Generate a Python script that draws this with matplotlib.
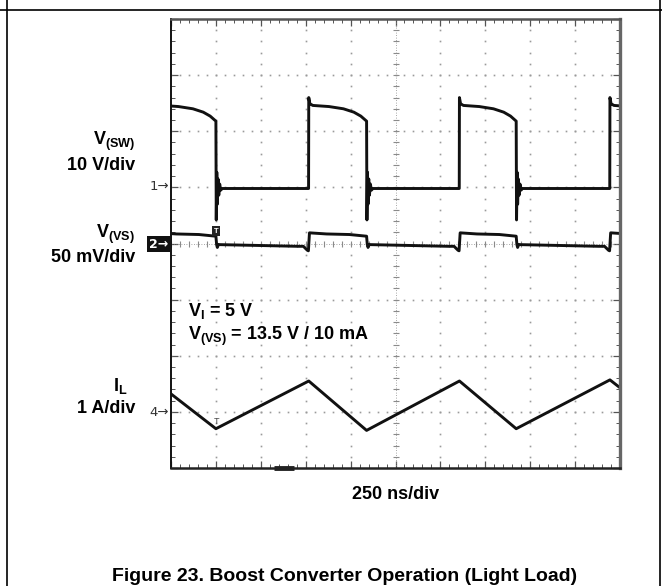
import numpy as np
import matplotlib
matplotlib.use('Agg')
import matplotlib.pyplot as plt
from matplotlib.lines import Line2D

plt.rcParams['font.family'] = ['Liberation Sans', 'DejaVu Sans']
plt.rcParams['font.weight'] = 'bold'
plt.rcParams['mathtext.fontset'] = 'custom'
plt.rcParams['mathtext.rm'] = 'Liberation Sans:bold'
plt.rcParams['mathtext.it'] = 'Liberation Sans:bold'
plt.rcParams['mathtext.bf'] = 'Liberation Sans:bold'

# ---------------- data ----------------
ns_per_div = 250
n_xdiv, n_ydiv = 10, 8

# channel scales and ground positions (divisions from screen centre)
sw_v_per_div, sw_ground = 10.0, 1.0
vs_mv_per_div, vs_ground = 50.0, 0.0
il_a_per_div, il_ground = 1.0, -3.0

# V(SW): switching edges (ns) and waveform shape (V)
sw_rise_t = [-70, 767, 1606, 2444]
sw_fall_t = [250, 1089, 1922, 2764]
sw_high_frac = [0.0, 0.02, 0.07, 0.35, 0.60, 0.78, 0.90, 1.0]
sw_high_v = [16.0, 14.9, 14.6, 14.4, 14.0, 13.4, 12.7, 11.8]
sw_ring_dt = [2, 5, 8, 12, 16, 21, 27, 35]
sw_ring_v = [-5.8, 2.7, -3.0, 1.5, -1.4, 0.6, -0.5, -0.2]
sw_low_v = -0.2

# V(VS) ripple (mV)
vs_high_frac = [0.0, 0.3, 0.7, 1.0]
vs_high_mv = [9.5, 8.5, 8.0, 6.5]
vs_fall_dt = [4, 8, 14]
vs_fall_mv = [-1.0, -3.5, -0.8]
vs_low_mv = [-1.0, -2.5]
vs_dip_dt = [-30, -8, -2]
vs_dip_mv = [-2.5, -6.0, -6.5]

# inductor current I_L (A): corner points
il_t = [0, 250, 767, 1089, 1606, 1922, 2444, 2500]
il_a = [0.32, -0.30, 0.55, -0.33, 0.55, -0.30, 0.57, 0.43]

# ---------------- build traces from breakpoints ----------------
sw_t, sw_v = [], []
vs_t, vs_v = [], []
for r, f in zip(sw_rise_t, sw_fall_t):
    dur = f - r
    sw_t += [r - 1]
    sw_v += [sw_low_v]
    sw_t += [r + fr * dur for fr in sw_high_frac]
    sw_v += sw_high_v
    sw_t += [f + d for d in sw_ring_dt]
    sw_v += sw_ring_v
    vs_t += [r + d for d in vs_dip_dt]
    vs_v += vs_dip_mv
    vs_t += [r + 4 + fr * (dur - 4) for fr in vs_high_frac]
    vs_v += vs_high_mv
    vs_t += [f + d for d in vs_fall_dt]
    vs_v += vs_fall_mv
    vs_t += [f + 20]
    vs_v += [vs_low_mv[0]]
    nxt = r + 836
    vs_t += [nxt - 60]
    vs_v += [vs_low_mv[1]]

sw_x = np.array(sw_t) / ns_per_div
sw_y = sw_ground + np.array(sw_v) / sw_v_per_div
vs_x = np.array(vs_t) / ns_per_div
vs_y = vs_ground + np.array(vs_v) / vs_mv_per_div
il_x = np.array(il_t) / ns_per_div
il_y = il_ground + np.array(il_a) / il_a_per_div

# ---------------- figure ----------------
W, H = 662, 586
fig = plt.figure(figsize=(W / 100, H / 100), dpi=100)
fig.patch.set_facecolor('white')

def fx(x): return x / W
def fy(y): return 1 - y / H

# table-cell borders
fig.add_artist(Line2D([fx(7), fx(7)], [0, 1], color='black', lw=1.2))
fig.add_artist(Line2D([fx(660), fx(660)], [0, 1], color='black', lw=1.2))
fig.add_artist(Line2D([0, 1], [fy(10), fy(10)], color='black', lw=1.2))

gl, gt, gr, gb = 171, 19, 620, 468
ax = fig.add_axes([fx(gl), fy(gb), (gr - gl) / W, (gb - gt) / H])
ax.set_xlim(0, n_xdiv)
ax.set_ylim(-n_ydiv / 2, n_ydiv / 2)
ax.set_facecolor('white')

# frame
ax.spines['left'].set_linewidth(1.4)
ax.spines['left'].set_color('#111111')
ax.spines['bottom'].set_linewidth(1.8)
ax.spines['bottom'].set_color('#222222')
ax.spines['top'].set_linewidth(1.8)
ax.spines['top'].set_color('#555555')
ax.spines['right'].set_linewidth(2.4)
ax.spines['right'].set_color('#666666')

ax.set_xticks(np.arange(0, n_xdiv + 0.01, 1))
ax.set_yticks(np.arange(-4, 4.01, 1))
ax.set_xticks(np.arange(0, n_xdiv + 0.01, 0.2), minor=True)
ax.set_yticks(np.arange(-4, 4.01, 0.2), minor=True)
ax.tick_params(which='both', direction='in', top=True, right=True,
               labelbottom=False, labelleft=False, color='#555555')
ax.tick_params(which='major', length=5, width=0.9)
ax.tick_params(which='minor', length=3, width=0.7)

# dotted graticule
dot_c = '#9a9a9a'
for gx in range(1, n_xdiv):
    if gx == 5:
        continue
    yy = np.arange(-4, 4.01, 0.2)
    ax.plot(np.full_like(yy, gx), yy, ls='none', marker='s', ms=1.2,
            color=dot_c, mew=0)
for gy in range(-3, 4):
    if gy == 0:
        continue
    xx = np.arange(0, n_xdiv + 0.01, 0.2)
    ax.plot(xx, np.full_like(xx, gy), ls='none', marker='s', ms=1.2,
            color=dot_c, mew=0)
# centre axes with crosses
cc = '#8a8a8a'
yy = np.arange(-4, 4.01, 0.2)
ax.plot([5, 5], [-4, 4], color=cc, lw=0.6, ls=(0, (1, 2)))
ax.plot(np.full_like(yy, 5), yy, ls='none', marker='_', ms=5, mew=0.8, color=cc)
xx = np.arange(0, n_xdiv + 0.01, 0.2)
ax.plot([0, 10], [0, 0], color=cc, lw=0.6, ls=(0, (1, 2)))
ax.plot(xx, np.zeros_like(xx), ls='none', marker='|', ms=5, mew=0.8, color=cc)

# traces
tr = dict(color='#111111', lw=2.1, solid_joinstyle='round')
ax.plot(sw_x, sw_y, **tr)
ax.plot(vs_x, vs_y, **tr)
ax.plot(il_x, il_y, **tr)

# trigger markers
ax.text(250 / ns_per_div, 0.22, 'T', fontsize=5.5, color='white', ha='center',
        va='center', bbox=dict(boxstyle='square,pad=0.2', fc='#222222', ec='none'))
ax.text(255 / ns_per_div, il_ground - 0.17, 'T', fontsize=6.5, color='#444444',
        ha='center', va='center', fontweight='normal')
ax.plot([2.3, 2.75], [-4, -4], color='#222222', lw=3.5, solid_capstyle='butt',
        clip_on=False)

# channel markers
fig.text(fx(169), fy(187), '1\u2192', fontsize=9.5, color='#333333', ha='right',
         va='center', fontweight='normal', family=['DejaVu Sans'])
fig.text(fx(168), fy(244), '2\u2192', fontsize=9, color='white', ha='right',
         va='center', family=['DejaVu Sans'],
         bbox=dict(boxstyle='square,pad=0.15', fc='#111111', ec='none'))
fig.text(fx(169), fy(412), '4\u2192', fontsize=9.5, color='#333333', ha='right',
         va='center', fontweight='normal', family=['DejaVu Sans'])

# labels
fs = 13
fig.text(fx(135), fy(145), r'V$_{\mathrm{(SW)}}$', fontsize=fs, ha='right', va='baseline')
fig.text(fx(135), fy(170), '10 V/div', fontsize=fs, ha='right', va='baseline')
fig.text(fx(135), fy(238), r'V$_{\mathrm{(VS)}}$', fontsize=fs, ha='right', va='baseline')
fig.text(fx(135), fy(262), '50 mV/div', fontsize=fs, ha='right', va='baseline')
fig.text(fx(128), fy(391), r'I$_{\mathrm{L}}$', fontsize=fs, ha='right', va='baseline')
fig.text(fx(135), fy(413), '1 A/div', fontsize=fs, ha='right', va='baseline')

fig.text(fx(188), fy(316), r'V$_{\mathrm{I}}$ = 5 V', fontsize=fs, ha='left', va='baseline')
fig.text(fx(188), fy(340), r'V$_{\mathrm{(VS)}}$ = 13.5 V / 10 mA', fontsize=fs,
         ha='left', va='baseline')

fig.text(fx(396), fy(499), '250 ns/div', fontsize=fs, ha='center', va='baseline')
fig.text(fx(345), fy(581), 'Figure 23. Boost Converter Operation (Light Load)',
         fontsize=14, ha='center', va='baseline')

fig.savefig('out.png', dpi=100, facecolor='white')
